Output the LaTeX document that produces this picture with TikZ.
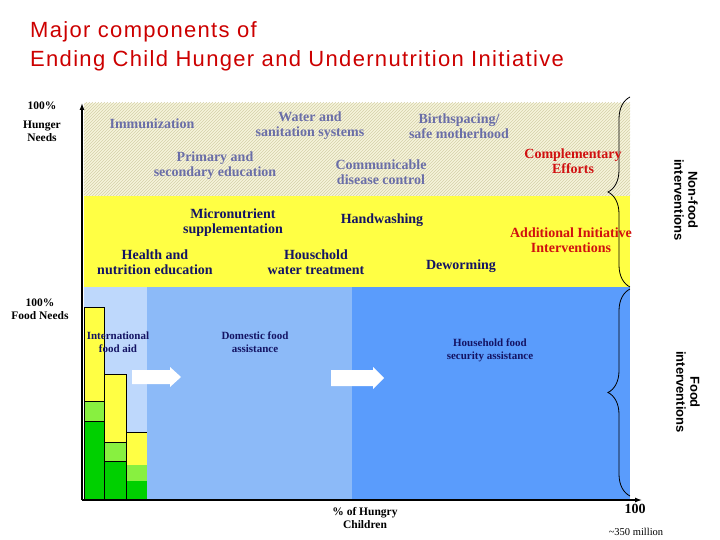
\documentclass[tikz,border=0pt]{standalone}
\usepackage{fontspec}
\setmainfont{Liberation Serif}
\newfontfamily\titlefont{Liberation Sans}
\newfontfamily\titlefontw[LetterSpace=6]{Liberation Sans}
\usetikzlibrary{patterns,decorations.pathreplacing,arrows.meta}
\definecolor{hatchbg}{HTML}{F6F4DC}
\definecolor{hatchln}{HTML}{D4D0A8}
\definecolor{yel}{HTML}{FFFF44}
\definecolor{lb}{HTML}{BED8FC}
\definecolor{mb}{HTML}{8CBAF8}
\definecolor{db}{HTML}{5A9CFC}
\definecolor{lg}{HTML}{88F040}
\definecolor{gr}{HTML}{00D000}
\definecolor{gtxt}{HTML}{6A6EA8}
\definecolor{ntxt}{HTML}{141464}
\definecolor{rtxt}{HTML}{D01010}
\definecolor{ttl}{HTML}{CC0000}
\tikzset{
 lbl/.style={font=\bfseries\fontsize{14}{15}\selectfont,align=center,inner sep=0pt},
 gl/.style={lbl,text=gtxt},
 nl/.style={lbl,text=ntxt},
 rl/.style={lbl,text=rtxt},
 fl/.style={nl,font=\bfseries\fontsize{11}{13}\selectfont},
 bar/.style={draw=black,line width=0.8pt},
 brace/.style={decorate,decoration={brace,amplitude=22pt,aspect=0.5},line width=0.8pt},
 side/.style={font=\titlefont\bfseries\fontsize{13}{14}\selectfont,align=center,rotate=-90,inner sep=0pt},
 axl/.style={font=\bfseries\fontsize{11.5}{13}\selectfont,align=center,inner sep=0pt},
 ttlnode/.style={anchor=west,inner sep=0pt,text=ttl,font=\titlefontw\fontsize{22}{24}\selectfont},
 warrow/.style={fill=white,draw=none}
}
\begin{document}
\begin{tikzpicture}[x=1pt,y=-1pt]
\useasboundingbox (0,0) rectangle (720,540);
% title
\node[ttlnode] (t1) at (30,32) {Major components of};
\node[ttlnode] (t2) at (30,61) {Ending Child Hunger and Undernutrition Initiative};
% regions
\fill[hatchbg] (84,103) rectangle (630,196);
\fill[pattern=north east lines,pattern color=hatchln] (84,103) rectangle (630,196);
\fill[yel] (84,196) rectangle (630,287);
\fill[lb] (84,287) rectangle (147,500);
\fill[mb] (147,287) rectangle (352,500);
\fill[db] (352,287) rectangle (630,500);
% bars
\filldraw[bar,fill=gr] (84,421) rectangle (104,500);
\filldraw[bar,fill=lg] (84,401) rectangle (104,421);
\filldraw[bar,fill=yel] (84,307) rectangle (104,401);
\filldraw[bar,fill=gr] (104,461) rectangle (126,500);
\filldraw[bar,fill=lg] (104,442) rectangle (126,461);
\filldraw[bar,fill=yel] (104,374) rectangle (126,442);
\fill[gr] (126,481) rectangle (147,500);
\fill[lg] (126,465) rectangle (147,481);
\fill[yel] (126,432) rectangle (147,465);
\draw[line width=0.6pt] (126,500) -- (126,432) -- (147,432);
% white arrows
\fill[warrow] (132,370) -- (170,370) -- (170,367) -- (181,377) -- (170,387) -- (170,384) -- (132,384) -- cycle;
\fill[warrow] (331,370) -- (373,370) -- (373,367) -- (384,378) -- (373,389) -- (373,386) -- (331,386) -- cycle;
% axes
\coordinate (o) at (82,500);
\coordinate (ytop) at (82,103);
\coordinate (xend) at (642,500);
\draw[line width=1.3pt,-{Latex[length=7pt,width=5pt]}] (o) -- (ytop);
\draw[line width=1.3pt,-{Latex[length=7pt,width=5pt]}] (o) -- (xend);
% braces (y axis points down, so draw bottom-to-top for brace on the right)
\coordinate (b1a) at (630,97); \coordinate (b1b) at (630,287);
\coordinate (b2a) at (630,289); \coordinate (b2b) at (630,496);
\draw[brace] (b1b) -- (b1a);
\draw[brace] (b2b) -- (b2a);
\node[side] (nf) at (686,200) {Non-food\\interventions};
\node[side] (fi) at (688,392) {Food\\interventions};
% hatched texts
\node[gl] (imm) at (152,124) {Immunization};
\node[gl] (wat) at (310,126) {Water and\\sanitation systems};
\node[gl] (bir) at (459,126) {Birthspacing/\\safe motherhood};
\node[gl] (pri) at (215,166) {Primary and\\secondary education};
\node[gl] (com) at (381,172) {Communicable\\disease control};
\node[rl] (cmp) at (573,161) {Complementary\\Efforts};
% yellow texts
\node[nl] (mic) at (233,223) {Micronutrient\\supplementation};
\node[nl] (han) at (382,220) {Handwashing};
\node[nl] (hea) at (155,262) {Health and\\nutrition education};
\node[nl] (hou) at (316,262) {Houschold\\water treatment};
\node[nl] (dew) at (461,266) {Deworming};
\node[rl] (add) at (571,240) {Additional Initiative\\Interventions};
% food texts
\node[fl] (int) at (118,342) {International\\food aid};
\node[fl] (dom) at (255,342) {Domestic food\\assistance};
\node[fl] (hfs) at (490,350) {Household food\\security assistance};
% axis labels
\node[axl] (h100) at (42,106) {100\%};
\node[axl] (hn) at (42,131) {Hunger\\Needs};
\node[axl] (f100) at (40,309) {100\%\\Food Needs};
\node[axl] (pc) at (365,518) {\% of Hungry\\Children};
\node[axl,font=\bfseries\fontsize{14}{15}\selectfont] (hun) at (635,509) {100};
\node[inner sep=0pt,font=\fontsize{10.5}{11}\selectfont] (mil) at (636,532) {\textasciitilde350 million};
\end{tikzpicture}
\end{document}
